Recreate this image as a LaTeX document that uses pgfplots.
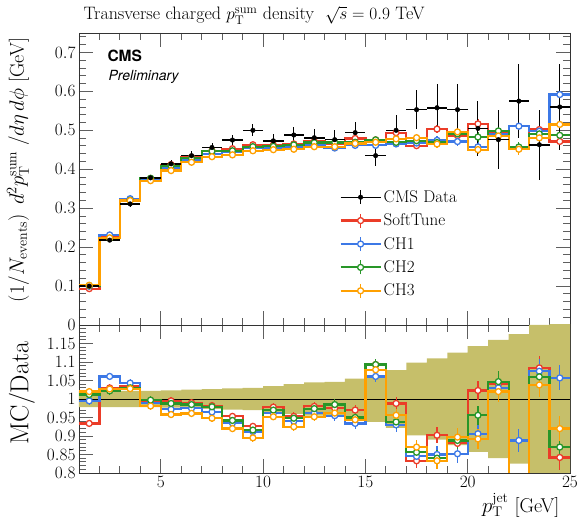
\documentclass[border=0pt]{standalone}
\usepackage{fontspec}
\usepackage{pgfplots}
\pgfplotsset{compat=1.18}
\usepackage{pgfplotstable}
\newfontfamily\heros{TeX Gyre Heros}

\definecolor{cred}{RGB}{235,60,40}
\definecolor{cblue}{RGB}{60,120,230}
\definecolor{cgreen}{RGB}{40,150,40}
\definecolor{corange}{RGB}{255,160,0}
\definecolor{bandcol}{RGB}{198,191,106}
\definecolor{tickgray}{RGB}{95,95,95}

\newcommand\fs[1]{\fontsize{#1}{#1}\selectfont}

% xl = left bin edge, xc = bin centre (nan on the closing row)
% d/de = data, r b g o = SoftTune CH1 CH2 CH3, rr.. = MC/Data
\pgfplotstableread{
xl xc d de r b g o rr rb rg ro me re
1 1.5 0.100 0.0022 0.0934 0.0995 0.1012 0.1020 0.934 0.995 1.012 1.020 0.002 0.010
2 2.5 0.218 0.0048 0.2245 0.2313 0.2228 0.2239 1.030 1.061 1.022 1.027 0.003 0.010
3 3.5 0.311 0.0068 0.3219 0.3244 0.3203 0.3197 1.035 1.043 1.030 1.028 0.003 0.010
4 4.5 0.378 0.0083 0.3761 0.3742 0.3769 0.3708 0.995 0.990 0.997 0.981 0.003 0.010
5 5.5 0.414 0.0095 0.4119 0.4024 0.4090 0.3966 0.995 0.972 0.988 0.958 0.003 0.010
6 6.5 0.435 0.0110 0.4307 0.4241 0.4285 0.4180 0.990 0.975 0.985 0.961 0.003 0.010
7 7.5 0.456 0.0123 0.4478 0.4400 0.4464 0.4323 0.982 0.965 0.979 0.948 0.004 0.010
8 8.5 0.475 0.0138 0.4527 0.4441 0.4475 0.4370 0.953 0.935 0.942 0.920 0.004 0.010
9 9.5 0.500 0.0150 0.4630 0.4560 0.4580 0.4475 0.926 0.912 0.916 0.895 0.004 0.010
10 10.5 0.473 0.0166 0.4626 0.4550 0.4588 0.4503 0.978 0.962 0.970 0.952 0.004 0.010
11 11.5 0.488 0.0195 0.4651 0.4587 0.4626 0.4514 0.953 0.940 0.948 0.925 0.005 0.012
12 12.5 0.481 0.0216 0.4714 0.4627 0.4685 0.4579 0.980 0.962 0.974 0.952 0.005 0.012
13 13.5 0.476 0.0240 0.4641 0.4546 0.4689 0.4579 0.975 0.955 0.985 0.962 0.006 0.014
14 14.5 0.494 0.0270 0.4792 0.4614 0.4693 0.4663 0.970 0.934 0.950 0.944 0.006 0.015
15 15.5 0.435 0.0270 0.4755 0.4615 0.4755 0.4694 1.093 1.061 1.093 1.079 0.007 0.016
16 16.5 0.500 0.0390 0.4940 0.4650 0.4690 0.4780 0.988 0.930 0.938 0.956 0.008 0.018
17 17.5 0.553 0.0500 0.4606 0.4673 0.4734 0.4811 0.833 0.845 0.856 0.870 0.009 0.020
18 18.5 0.558 0.0610 0.5033 0.4743 0.4687 0.4648 0.902 0.850 0.840 0.833 0.010 0.022
19 19.5 0.553 0.0660 0.4866 0.4712 0.4911 0.4960 0.880 0.852 0.888 0.897 0.011 0.024
20 20.5 0.505 0.0700 0.5166 0.4575 0.4828 0.4505 1.023 0.906 0.956 0.892 0.012 0.026
21 21.5 0.476 0.0760 0.4950 0.4903 0.4984 0.4855 1.040 1.030 1.047 1.020 0.013 0.028
22 22.5 0.575 0.0950 0.4543 0.5106 0.4571 0.4514 0.785 0.888 0.790 0.780 0.014 0.030
23 23.5 0.463 0.0900 0.5019 0.4977 0.4908 0.4806 1.084 1.075 1.060 1.038 0.015 0.032
24 24.5 0.560 0.1100 0.4715 0.5919 0.4872 0.5152 0.842 1.057 0.870 0.920 0.016 0.034
25 nan 0.560 0.1100 0.4715 0.5919 0.4872 0.5152 0.842 1.057 0.870 0.920 0.016 0.034
}\mc

% data uncertainty band: upper edge left to right, then lower edge back
\pgfplotstableread{
x y
1 1.022
2 1.022
3 1.022
4 1.022
5 1.023
6 1.025
7 1.027
8 1.029
9 1.030
10 1.035
11 1.040
12 1.045
13 1.046
14 1.055
15 1.062
16 1.078
17 1.098
18 1.110
19 1.125
20 1.143
21 1.160
22 1.175
23 1.200
24 1.220
25 1.220
25 0.780
24 0.800
23 0.825
22 0.840
21 0.857
20 0.875
19 0.890
18 0.902
17 0.922
16 0.938
15 0.945
14 0.954
13 0.955
12 0.960
11 0.965
10 0.970
9 0.971
8 0.973
7 0.975
6 0.977
5 0.978
4 0.978
3 0.978
2 0.978
1 0.978
}\bandtab

\pgfplotsset{
  panel/.style={scale only axis, width=491pt, xmin=1, xmax=25,
    tick align=inside, major tick length=14pt, minor tick length=7pt,
    tick style={tickgray, line width=0.9pt},
    axis line style={line width=0.9pt, black!80},
    tick label style={font=\fs{17}},
    xtick={5,10,15,20,25}, minor xtick={1,...,25}},
  mcline/.style={#1, const plot, line width=2.2pt, forget plot},
  mcmark/.style={#1, only marks, mark=*, mark size=3pt,
    mark options={fill=white, line width=1.3pt, solid}, forget plot,
    error bars/y dir=both, error bars/y explicit, error bars/error mark=none,
    error bars/error bar style={line width=1.2pt}},
  mcleg/.style={legend image code/.code={
      \draw[#1, line width=2.2pt] (0pt,0pt) -- (40pt,0pt);
      \draw[#1, line width=1.2pt] (20pt,-7pt) -- (20pt,7pt);
      \draw[#1, line width=1.3pt, fill=white] (20pt,0pt) circle (3pt);}},
  datleg/.style={legend image code/.code={
      \draw[black, line width=0.8pt] (0pt,0pt) -- (40pt,0pt);
      \draw[black, line width=0.9pt] (20pt,-7pt) -- (20pt,7pt);
      \fill[black] (20pt,0pt) circle (2.3pt);}},
}

\begin{document}
\begin{tikzpicture}
\useasboundingbox (-79pt,-196pt) rectangle (501pt,325pt);

\begin{axis}[panel, name=top, at={(0pt,0pt)}, anchor=south west,
  height=292pt, ymin=0, ymax=0.75, xticklabels={},
  ytick={0,0.1,0.2,0.3,0.4,0.5,0.6,0.7},
  minor ytick={0,0.02,...,0.74},
  legend style={at={(0.524,0.475)}, anchor=north west, draw=none, fill=none,
    font=\fs{17}, row sep=6pt},
  legend cell align=left]
\addlegendimage{datleg}\addlegendentry{CMS Data}
\addlegendimage{mcleg=cred}\addlegendentry{SoftTune}
\addlegendimage{mcleg=cblue}\addlegendentry{CH1}
\addlegendimage{mcleg=cgreen}\addlegendentry{CH2}
\addlegendimage{mcleg=corange}\addlegendentry{CH3}

\addplot[mcline=cred] table[x=xl, y=r] {\mc};
\addplot[mcline=cblue] table[x=xl, y=b] {\mc};
\addplot[mcline=cgreen] table[x=xl, y=g] {\mc};
\addplot[mcline=corange] table[x=xl, y=o] {\mc};
\addplot[mcmark=cred] table[x=xc, y=r, y error=me] {\mc};
\addplot[mcmark=cblue] table[x=xc, y=b, y error=me] {\mc};
\addplot[mcmark=cgreen] table[x=xc, y=g, y error=me] {\mc};
\addplot[mcmark=corange] table[x=xc, y=o, y error=me] {\mc};

\addplot[black, only marks, mark=*, mark size=0.1pt, forget plot,
  error bars/x dir=both, error bars/x fixed=0.5, error bars/error mark=none,
  error bars/error bar style={line width=1.6pt}]
  table[x=xc, y=d] {\mc};
\addplot[black, only marks, mark=*, mark size=2.3pt, forget plot,
  error bars/y dir=both, error bars/y explicit, error bars/error mark=none,
  error bars/error bar style={line width=0.9pt}]
  table[x=xc, y=d, y error=de] {\mc};
\end{axis}

\begin{axis}[panel, name=ratio, at={(0pt,0pt)}, anchor=north west,
  height=148pt, ymin=0.8, ymax=1.2,
  ytick={0.8,0.85,0.9,0.95,1,1.05,1.1,1.15},
  yticklabel style={/pgf/number format/fixed},
  minor ytick={0.8,0.81,...,1.2}]
\addplot[const plot, fill=bandcol, draw=none, forget plot] table[x=x, y=y] {\bandtab};
\addplot[black, line width=0.7pt, forget plot] coordinates {(1,1) (25,1)};

\addplot[mcline=cred] table[x=xl, y=rr] {\mc};
\addplot[mcline=cblue] table[x=xl, y=rb] {\mc};
\addplot[mcline=cgreen] table[x=xl, y=rg] {\mc};
\addplot[mcline=corange] table[x=xl, y=ro] {\mc};
\addplot[mcmark=cred, restrict y to domain=0.8:1.2] table[x=xc, y=rr, y error=re] {\mc};
\addplot[mcmark=cblue, restrict y to domain=0.8:1.2] table[x=xc, y=rb, y error=re] {\mc};
\addplot[mcmark=cgreen, restrict y to domain=0.8:1.2] table[x=xc, y=rg, y error=re] {\mc};
\addplot[mcmark=corange, restrict y to domain=0.8:1.2] table[x=xc, y=ro, y error=re] {\mc};
\end{axis}

\node[anchor=base west, font=\fs{18}] at (1pt,305pt)
  {Transverse charged $p_{\mathrm{T}}^{\mathrm{sum}}$ density\ \ $\sqrt{s}=0.9$ TeV};
\node[anchor=base west, font=\heros\bfseries\fs{15.5}] at (25pt,263pt) {CMS};
\node[anchor=base west, font=\heros\itshape\fs{14}] at (26pt,244pt) {Preliminary};
\node[rotate=90, font=\fs{20}] at (-61pt,155pt)
  {$\left(1/N_{\mathrm{events}}\right)\;d^{2}p_{\mathrm{T}}^{\mathrm{sum}}\;/d\eta\,d\phi$ [GeV]};
\node[rotate=90, font=\fs{26}] at (-57pt,-68pt) {MC/Data};
\node[anchor=east, font=\fs{20}] at (484pt,-180pt) {$p_{\mathrm{T}}^{\mathrm{jet}}$ [GeV]};
\end{tikzpicture}
\end{document}
